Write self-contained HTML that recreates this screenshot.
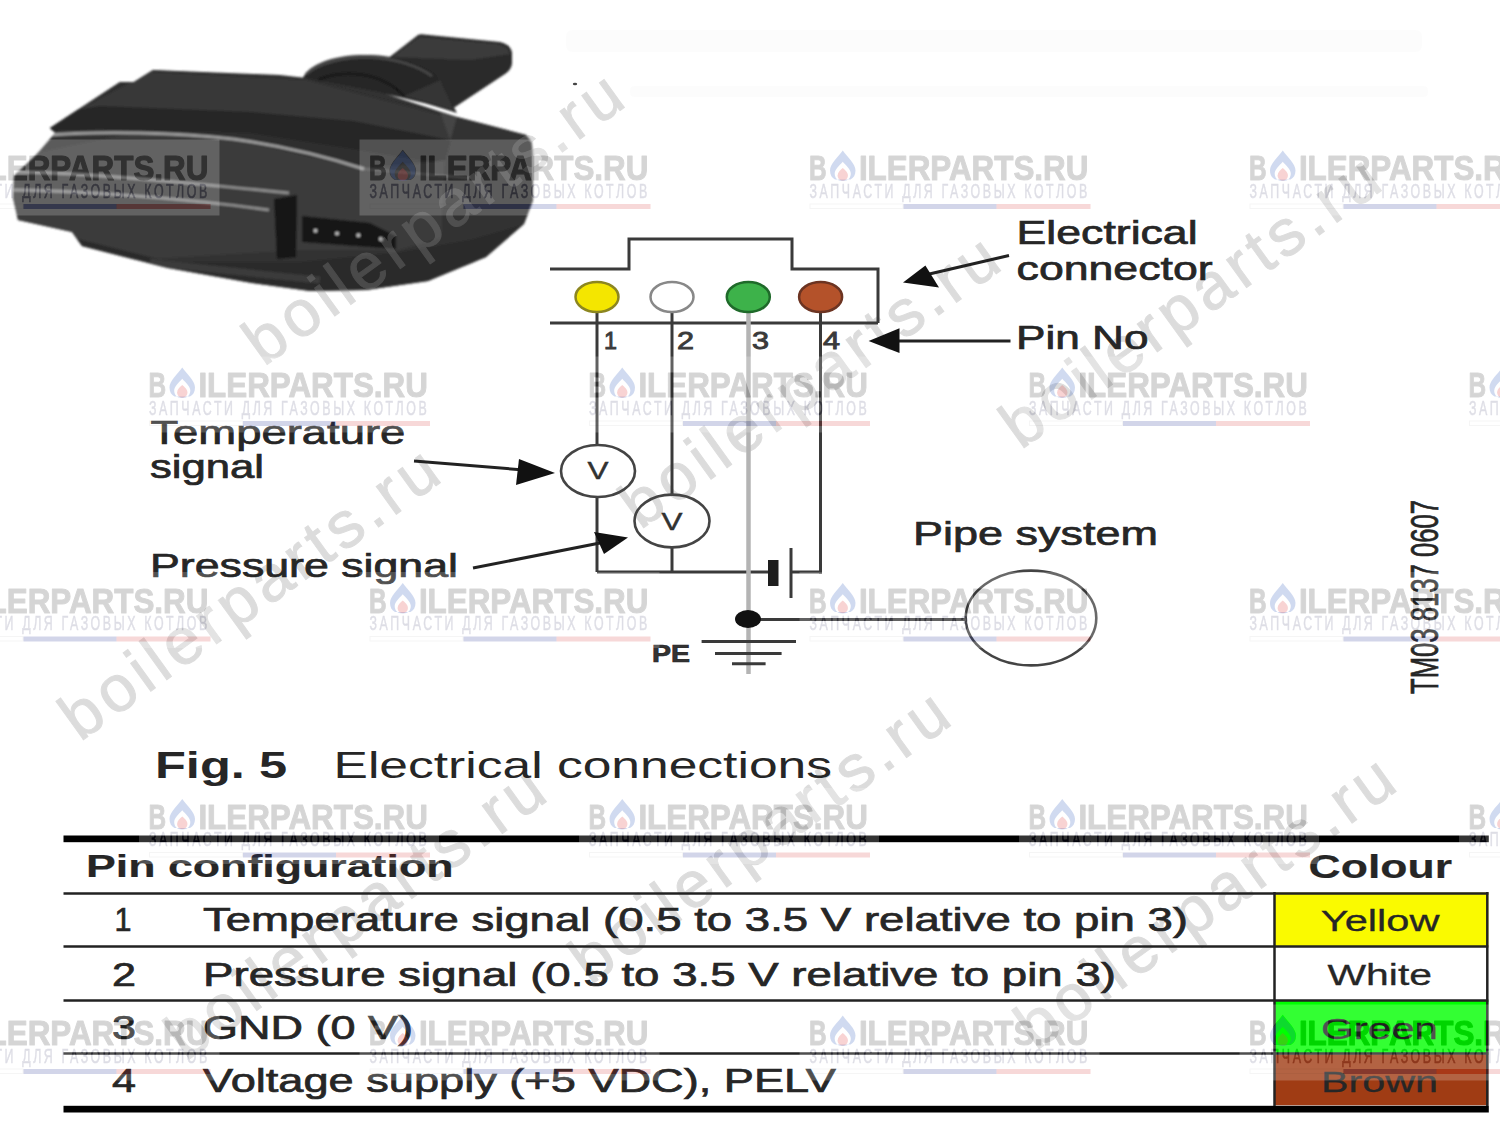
<!DOCTYPE html>
<html><head><meta charset="utf-8"><style>
html,body{margin:0;padding:0;background:#fff;width:1500px;height:1125px;overflow:hidden}
svg{display:block}
text{font-family:"Liberation Sans",sans-serif}
</style></head><body>
<svg width="1500" height="1125" viewBox="0 0 1500 1125">
<defs>
<filter id="soft" x="-5%" y="-5%" width="110%" height="110%"><feGaussianBlur stdDeviation="1.2"/></filter>
<g id="wm">
<mask id="wmmask" maskUnits="userSpaceOnUse" x="-20" y="-30" width="330" height="100">
<rect x="-20" y="-30" width="330" height="100" fill="#fff"/>
<g fill="#000" stroke="#000" stroke-width="1.2" stroke-linejoin="round">
<text x="-0.5" y="24.6" font-size="35" font-weight="bold" textLength="17.6" lengthAdjust="spacingAndGlyphs">B</text>
<text x="49.4" y="24.6" font-size="35" font-weight="bold" textLength="229.5" lengthAdjust="spacingAndGlyphs">ILERPARTS.RU</text>
<path d="M33.25,-5 C38,2 46,8 46,15 C46,19.5 44,22.5 41,24 L25.5,24 C22.5,22.5 20.5,19.5 20.5,15 C20.5,8 28.5,2 33.25,-5 Z"/>
</g>
<text transform="scale(0.62,1)" x="0" y="42.5" font-size="20" fill="#000" stroke="#000" stroke-width="0.6" textLength="448" lengthAdjust="spacing">ЗАПЧАСТИ ДЛЯ ГАЗОВЫХ КОТЛОВ</text>
<rect x="94" y="48.5" width="187" height="5" fill="#000"/>
</mask>
<rect x="-10" y="-16" width="300" height="76" fill="#fff" fill-opacity="0.2" mask="url(#wmmask)"/>
<g opacity="0.16" fill="#000" stroke="#000" stroke-width="1.1" stroke-linejoin="round">
<text x="-0.5" y="24.6" font-size="35" font-weight="bold" textLength="17.6" lengthAdjust="spacingAndGlyphs">B</text>
<text x="49.4" y="24.6" font-size="35" font-weight="bold" textLength="229.5" lengthAdjust="spacingAndGlyphs">ILERPARTS.RU</text>
</g>
<path fill-rule="evenodd" d="M33.25,-5 C38,2 46,8 46,15 C46,19.5 44,22.5 41,24 L25.5,24 C22.5,22.5 20.5,19.5 20.5,15 C20.5,8 28.5,2 33.25,-5 Z M33.25,6.3 C36.5,10 41.3,14 41.3,18 C41.3,22 39,25.5 33.25,25.5 C27.5,25.5 25.2,22 25.2,18 C25.2,14 30,10 33.25,6.3 Z" fill="#3a64c0" fill-opacity="0.24"/>
<path d="M33.25,12.6 C35.5,14.5 38.4,17 38.4,20 C38.4,23 36,25 33.25,25 C30.5,25 28.1,23 28.1,20 C28.1,17 31,14.5 33.25,12.6 Z" fill="#e04848" fill-opacity="0.24"/>
<g opacity="0.14"><text transform="scale(0.62,1)" x="0" y="42.5" font-size="20" fill="#1a1a50" stroke="#1a1a50" stroke-width="0.6" textLength="448" lengthAdjust="spacing">ЗАПЧАСТИ ДЛЯ ГАЗОВЫХ КОТЛОВ</text></g>
<rect x="0.5" y="48.5" width="93" height="4.5" fill="none" stroke="#000" stroke-opacity="0.04" stroke-width="1"/>
<rect x="94" y="48.5" width="93" height="5" fill="#1c2c90" fill-opacity="0.2"/>
<rect x="187" y="48.5" width="94" height="5" fill="#d02828" fill-opacity="0.18"/>
</g>
<g id="wd" opacity="0.31"><text x="0" y="0" font-size="65.2" letter-spacing="5.25" fill="#919191" stroke="#919191" stroke-width="1">boilerparts.ru</text></g>
</defs>
<rect width="1500" height="1125" fill="#fff"/>
<g fill="#000" fill-opacity="0.012"><rect x="566" y="30" width="856" height="22" rx="6"/><rect x="630" y="86" width="798" height="11" rx="4"/></g>
<g id="photo" filter="url(#soft)">
<!-- tab -->
<path d="M389.6,57 L418,35 Q420,34 424,34.5 L500,42 Q510,44 512,52 L512,64 Q511,70 505,74 L452,109 L432,102 Z" fill="#2c2c2c"/>
<path d="M392,57 L419,37 L498,44 Q508,46 510,54 L470,60 Z" fill="#3a3a3a"/>
<!-- collar -->
<path d="M302,82 C304,66 330,56 360,55 C392,54 420,62 436,74 L457,113 C430,104 400,96 360,90 C335,86 315,84 302,84 Z" fill="#262626"/>
<path d="M306,74 C320,62 345,57 368,57 C395,58 418,66 432,76" fill="none" stroke="#4a4a4a" stroke-width="2.5"/>
<path d="M318,80 C340,70 380,70 404,96" fill="none" stroke="#181818" stroke-width="2.5"/>
<path d="M404,96 C420,100 440,105 455,112 L440,80 Z" fill="#353535"/>
<!-- main body -->
<path id="bodyP" d="M50,128 L120,82 L134,82 L153,70 L280,75 L306,78 L380,92 L457,117 L526,135 L532,143 L533,200 L524,224 L486,257 L428,281 L366,290 L310,291 L252,283 L168,268 L82,246 L72,232 L18,220 L13,198 L14,176 L36,155 L55,133 Z" fill="#323232"/>
<clipPath id="bodyClip"><use href="#bodyP"/></clipPath>
<g clip-path="url(#bodyClip)">
<!-- top face darker textured -->
<path d="M40,128 L120,82 L153,70 L306,78 L457,117 L526,135 L540,150 L364,169 L233,139 L140,131 Z" fill="#2f2f2f"/>
<path d="M150,72 L306,80 L440,115 L540,140 L540,160 L450,140 L353,121 L250,112 L100,106 L60,120 Z" fill="#393939"/>
<path d="M60,112 L100,106 L250,112 L353,121 L450,140 L540,150 L540,172 L450,165 L353,149 L250,133 L100,129 L40,131 Z" fill="#262626"/>
<path d="M440,112 L526,135 L540,150 L450,140 Z" fill="#444"/>
<!-- front face -->
<path d="M0,160 L140,131 L233,139 L364,169 L540,150 L540,200 L470,230 L400,250 L300,250 L140,260 L0,250 Z" fill="#3a3a3a"/>
<!-- right face -->
<path d="M457,117 L526,135 L534,150 L534,200 L526,222 L471,265 L440,270 L445,160 Z" fill="#303030"/>
<!-- bottom -->
<path d="M0,225 L82,240 L170,262 L300,262 L400,252 L470,240 L540,220 L540,320 L0,320 Z" fill="#2b2b2b"/>
<!-- streaks -->
<path d="M40,136 C100,130 180,133 233,139 C290,147 330,158 364,169" fill="none" stroke="#9a9a9a" stroke-width="3"/>
<path d="M14,172 C80,172 200,184 289,193" fill="none" stroke="#8a8a8a" stroke-width="3"/>
<path d="M14,190 C90,191 200,200 269,210" fill="none" stroke="#8a8a8a" stroke-width="3"/>
<path d="M364,169 L470,178" fill="none" stroke="#555" stroke-width="2"/>
<path d="M150,262 C200,268 260,274 320,280" fill="none" stroke="#3a3a3a" stroke-width="7"/>
</g>
<!-- connector port -->
<path d="M274,199 L297,195 L296,257 L277,259 Z" fill="#121212"/>
<path d="M302,216 L370,223 L396,236 L396,249 L302,242 Z" fill="#141414"/>
<g fill="#bbb"><circle cx="315.5" cy="230.7" r="2"/><circle cx="337" cy="233.5" r="2"/><circle cx="358.4" cy="235.3" r="2"/><circle cx="380.8" cy="239" r="2"/></g>
</g>
<g id="diagwm">
<use href="#wd" transform="translate(263.8,367.1) rotate(-35.78)"/>
<use href="#wd" transform="translate(1020.8,450.3) rotate(-35.78)"/>
<use href="#wd" transform="translate(80.0,742.3) rotate(-35.78)"/>
<use href="#wd" transform="translate(640.2,530.3) rotate(-35.78)"/>
<use href="#wd" transform="translate(186,1061.5) rotate(-35.78)"/>
<use href="#wd" transform="translate(590.2,985.5) rotate(-35.78)"/>
<use href="#wd" transform="translate(1035.7,1051.2) rotate(-35.78)"/>
</g>
<ellipse cx="575" cy="84" rx="2.2" ry="1.2" fill="#444"/>
<!--DIAGRAM-->
<g id="diagram" fill="none" stroke="#3a3a3a" stroke-width="3">
<path d="M550,269H629V239H792V269H878V323"/>
<path d="M550,323H878"/>
<line x1="597" y1="312" x2="597" y2="445"/>
<line x1="597" y1="497" x2="597" y2="572"/>
<line x1="672" y1="312" x2="672" y2="495"/>
<line x1="672" y1="548" x2="672" y2="572"/>
<line x1="820.5" y1="312" x2="820.5" y2="573.5"/>
<line x1="597" y1="572" x2="770" y2="572"/>
<line x1="791" y1="572" x2="822" y2="572"/>
<line x1="748.5" y1="312" x2="748.5" y2="674" stroke="#b4b4b4" stroke-width="4.5"/>
<line x1="791" y1="548" x2="791" y2="598" stroke-width="3"/>
<rect x="768" y="560" width="10.5" height="26" fill="#1e1e1e" stroke="none"/>
<ellipse cx="598" cy="471" rx="37" ry="26" stroke="#444" stroke-width="2.6"/>
<ellipse cx="672" cy="521" rx="37.5" ry="26.4" stroke="#444" stroke-width="2.6"/>
<ellipse cx="1031" cy="618" rx="65.3" ry="47.4" stroke="#444" stroke-width="2.6"/>
<line x1="748" y1="619.5" x2="966" y2="619.5"/>
<line x1="701.6" y1="641.4" x2="796" y2="641.4"/>
<line x1="715" y1="653.6" x2="781.6" y2="653.6"/>
<line x1="732" y1="663.8" x2="765.6" y2="663.8"/>
<ellipse cx="748" cy="619" rx="13" ry="9" fill="#111" stroke="none"/>
<ellipse cx="597" cy="297" rx="21.5" ry="15" fill="#f4e600" stroke="#8c8620" stroke-width="2.5"/>
<ellipse cx="672" cy="297" rx="21.5" ry="15" fill="#fff" stroke="#888" stroke-width="2.5"/>
<ellipse cx="748.3" cy="297" rx="21.5" ry="15" fill="#3db24a" stroke="#1f6a2a" stroke-width="2.5"/>
<ellipse cx="820.6" cy="297" rx="21.5" ry="15" fill="#b4522a" stroke="#6c3422" stroke-width="2.5"/>
<!-- arrows -->
<line x1="414" y1="461" x2="530" y2="470.5" stroke="#222" stroke-width="3"/>
<polygon points="555,473 519,459 516,485" fill="#111" stroke="none"/>
<line x1="473" y1="568" x2="605" y2="542" stroke="#222" stroke-width="3"/>
<polygon points="628,537.5 594,532 604,554" fill="#111" stroke="none"/>
<line x1="1009" y1="255.5" x2="925" y2="275" stroke="#222" stroke-width="3"/>
<polygon points="903,282.6 925.4,265.4 939,287.6" fill="#111" stroke="none"/>
<line x1="1010.5" y1="341" x2="895" y2="341" stroke="#222" stroke-width="3"/>
<polygon points="868.6,341 899.5,328.3 899.5,353" fill="#111" stroke="none"/>
</g>
<!--LABELS-->
<g id="labels" fill="#262626" stroke="#262626" stroke-width="0.7">
<text x="1016.6" y="244.4" font-size="33" textLength="181" lengthAdjust="spacingAndGlyphs">Electrical</text>
<text x="1016.6" y="280" font-size="33" textLength="196" lengthAdjust="spacingAndGlyphs">connector</text>
<text x="1016" y="349" font-size="33" textLength="132.6" lengthAdjust="spacingAndGlyphs">Pin No</text>
<text x="150.4" y="444" font-size="33" textLength="255" lengthAdjust="spacingAndGlyphs">Temperature</text>
<text x="150" y="478" font-size="33" textLength="114" lengthAdjust="spacingAndGlyphs">signal</text>
<text x="150" y="576.8" font-size="33" textLength="308" lengthAdjust="spacingAndGlyphs">Pressure signal</text>
<text x="913" y="545.4" font-size="34" textLength="245" lengthAdjust="spacingAndGlyphs">Pipe system</text>
<g font-size="24" fill="#3a3a3a" stroke="#3a3a3a" stroke-width="0.9">
<text x="604" y="348.6" textLength="13" lengthAdjust="spacingAndGlyphs">1</text>
<text x="677" y="348.6" textLength="17" lengthAdjust="spacingAndGlyphs">2</text>
<text x="752" y="348.6" textLength="17" lengthAdjust="spacingAndGlyphs">3</text>
<text x="823" y="348.6" textLength="17" lengthAdjust="spacingAndGlyphs">4</text>
</g>
<text x="652" y="661.6" font-size="23" font-weight="bold" fill="#333" textLength="38" lengthAdjust="spacingAndGlyphs">PE</text>
<text x="587.5" y="479" font-size="23" fill="#333" stroke-width="0.4" textLength="21" lengthAdjust="spacingAndGlyphs">V</text>
<text x="661.5" y="529.5" font-size="23" fill="#333" stroke-width="0.4" textLength="21" lengthAdjust="spacingAndGlyphs">V</text>
<text transform="translate(1437.6,694) rotate(-90) scale(1,1.4)" font-size="28" fill="#262626" stroke-width="0.5" textLength="194" lengthAdjust="spacingAndGlyphs">TM03 8137 0607</text>
</g>
<!--TABLE-->
<g id="table">
<text x="155" y="778.4" font-size="36" font-weight="bold" fill="#262626" textLength="132" lengthAdjust="spacingAndGlyphs">Fig. 5</text>
<text x="333.5" y="778.4" font-size="36" fill="#262626" textLength="498.5" lengthAdjust="spacingAndGlyphs">Electrical connections</text>
<rect x="1274" y="892.6" width="214.3" height="54" fill="#fafa00"/>
<rect x="1274" y="1000.3" width="214.3" height="54" fill="#00ff00"/>
<rect x="1274" y="1054.3" width="214.3" height="51" fill="#a03c14"/>
<rect x="63.5" y="835.5" width="1425.3" height="6.7" fill="#000"/>
<rect x="63.5" y="1105.8" width="1425.3" height="6.7" fill="#000"/>
<g stroke="#222" stroke-width="2.5" fill="none">
<line x1="63.5" y1="893.6" x2="1488.3" y2="893.6"/>
<line x1="63.5" y1="946.5" x2="1488.3" y2="946.5"/>
<line x1="63.5" y1="1000.5" x2="1488.3" y2="1000.5"/>
<line x1="63.5" y1="1053.6" x2="1488.3" y2="1053.6"/>
<line x1="1274.5" y1="892" x2="1274.5" y2="1106"/>
<line x1="1487.3" y1="892" x2="1487.3" y2="1106"/>
</g>
<g fill="#262626" stroke="#262626" stroke-width="0.7">
<text x="86" y="877.4" font-size="32" font-weight="bold" stroke-width="0.2" textLength="367.5" lengthAdjust="spacingAndGlyphs">Pin configuration</text>
<text x="1308.6" y="878" font-size="33" font-weight="bold" stroke-width="0.2" textLength="143.4" lengthAdjust="spacingAndGlyphs">Colour</text>
<text x="114.5" y="931.4" font-size="34" textLength="17" lengthAdjust="spacingAndGlyphs">1</text>
<text x="112" y="985.5" font-size="34" textLength="24" lengthAdjust="spacingAndGlyphs">2</text>
<text x="112" y="1038.5" font-size="34" textLength="24" lengthAdjust="spacingAndGlyphs">3</text>
<text x="112" y="1092" font-size="34" textLength="24" lengthAdjust="spacingAndGlyphs">4</text>
<text x="203" y="931.4" font-size="34" textLength="985" lengthAdjust="spacingAndGlyphs">Temperature signal (0.5 to 3.5 V relative to pin 3)</text>
<text x="203" y="985.5" font-size="34" textLength="913" lengthAdjust="spacingAndGlyphs">Pressure signal (0.5 to 3.5 V relative to pin 3)</text>
<text x="203" y="1038.5" font-size="34" textLength="210" lengthAdjust="spacingAndGlyphs">GND (0 V)</text>
<text x="203" y="1092" font-size="34" textLength="633" lengthAdjust="spacingAndGlyphs">Voltage supply (+5 VDC), PELV</text>
<text stroke-width="0.3" x="1320.8" y="931" font-size="29.5" textLength="118.7" lengthAdjust="spacingAndGlyphs">Yellow</text>
<text stroke-width="0.3" x="1327.5" y="985" font-size="29.5" textLength="104.5" lengthAdjust="spacingAndGlyphs">White</text>
<text stroke-width="0.3" x="1321" y="1039" font-size="29.5" textLength="117" lengthAdjust="spacingAndGlyphs">Green</text>
<text stroke-width="0.3" x="1321" y="1092" font-size="29.5" textLength="117" lengthAdjust="spacingAndGlyphs">Brown</text>
</g>
</g>
<g id="watermarks">
<use href="#wm" x="-70.5" y="155.5"/>
<use href="#wm" x="369.5" y="155.5"/>
<use href="#wm" x="809.5" y="155.5"/>
<use href="#wm" x="1249.5" y="155.5"/>
<use href="#wm" x="149" y="372.5"/>
<use href="#wm" x="589" y="372.5"/>
<use href="#wm" x="1029" y="372.5"/>
<use href="#wm" x="1469" y="372.5"/>
<use href="#wm" x="-70.5" y="588"/>
<use href="#wm" x="369.5" y="588"/>
<use href="#wm" x="809.5" y="588"/>
<use href="#wm" x="1249.5" y="588"/>
<use href="#wm" x="149" y="804"/>
<use href="#wm" x="589" y="804"/>
<use href="#wm" x="1029" y="804"/>
<use href="#wm" x="1469" y="804"/>
<use href="#wm" x="-70.5" y="1020.5"/>
<use href="#wm" x="369.5" y="1020.5"/>
<use href="#wm" x="809.5" y="1020.5"/>
<use href="#wm" x="1249.5" y="1020.5"/>
</g>
</svg>
</body></html>
